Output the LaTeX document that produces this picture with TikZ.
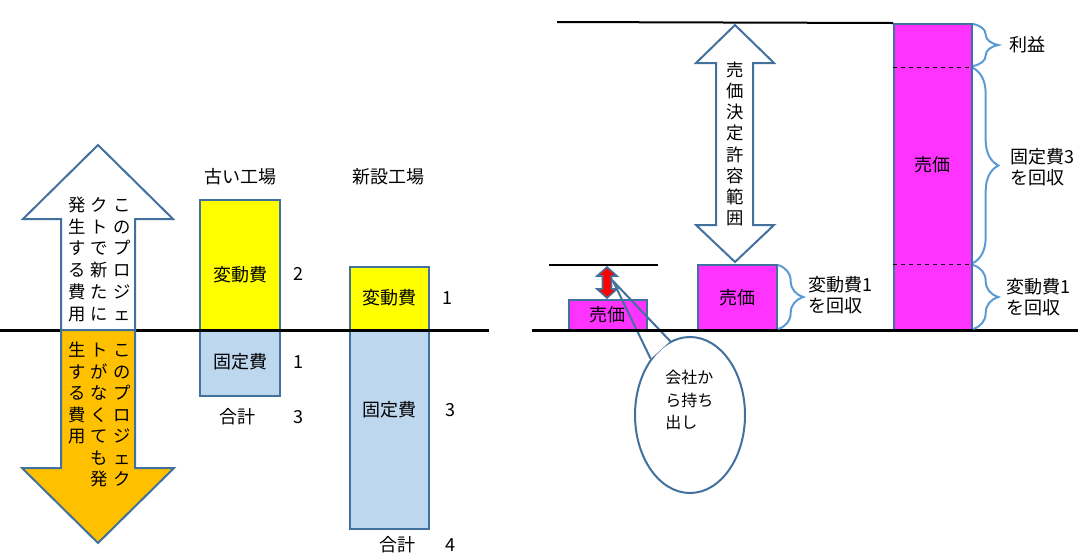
\documentclass[tikz,border=0pt]{standalone}
\usepackage{fontspec}
\setmainfont{Noto Sans CJK JP}
\usetikzlibrary{decorations.pathreplacing,shapes.geometric,calc}
\definecolor{edge}{RGB}{65,113,156}
\definecolor{fixc}{RGB}{189,215,238}
\definecolor{varc}{RGB}{255,255,0}
\definecolor{orng}{RGB}{255,192,0}
\definecolor{pinkc}{RGB}{255,51,255}
\definecolor{brc}{RGB}{91,155,213}
\newcommand\vcol[5]{%
  \foreach \ch [count=\i] in {#5} {\node[vch] (#1-\i) at (#2,{#3+(\i-1)*#4}) {\ch};}}
\begin{document}
\begin{tikzpicture}[x=0.75pt,y=-0.75pt,
  lbl/.style={inner sep=0, font=\fontsize{13.5}{16}\selectfont, text height=11.9pt, text depth=1.6pt},
  vch/.style={inner sep=0, font=\fontsize{13}{15}\selectfont, text height=11.4pt, text depth=1.6pt},
  twoline/.style={inner sep=0, font=\fontsize{13.5}{15.75}\selectfont, align=left, anchor=west},
  bar/.style={draw=edge, line width=1.5pt, inner sep=0, anchor=north west},
  ashape/.style={draw=edge, line width=1.5pt, line join=miter},
  axis/.style={black, line width=2.25pt},
  thinaxis/.style={black, line width=1.5pt},
  curly/.style={draw=brc, line width=1.5pt, decorate, decoration={brace, amplitude=19pt}},
]
\useasboundingbox (0,0) rectangle (1088,558);

% ---------- left: old / new factory ----------
\node[bar, fill=varc, minimum width=60pt, minimum height=98.25pt] (oldvar) at (199,199) {};
\node[bar, fill=fixc, minimum width=60pt, minimum height=48.75pt] (oldfix) at (199,330) {};
\node[bar, fill=varc, minimum width=59.25pt, minimum height=48pt] (newvar) at (349,266) {};
\node[bar, fill=fixc, minimum width=59.25pt, minimum height=148.5pt] (newfix) at (349,330) {};

\node[lbl] (t-old) at (240,177) {古い工場};
\node[lbl] (t-new) at (388,177) {新設工場};
\node[lbl] (l-oldvar) at (240,275) {変動費};
\node[lbl] (n-oldvar) at (298,274) {2};
\node[lbl] (l-oldfix) at (240,362) {固定費};
\node[lbl] (n-oldfix) at (298,362) {1};
\node[lbl] (l-oldsum) at (237,417) {合計};
\node[lbl] (n-oldsum) at (298,417) {3};
\node[lbl] (l-newvar) at (389,298) {変動費};
\node[lbl] (n-newvar) at (447,298) {1};
\node[lbl] (l-newfix) at (389,410) {固定費};
\node[lbl] (n-newfix) at (450,410) {3};
\node[lbl] (l-newsum) at (397,545) {合計};
\node[lbl] (n-newsum) at (450,545) {4};

\coordinate (ax1a) at (0,330);
\coordinate (ax1b) at (489,330);
\draw[axis] (ax1a) -- (ax1b);

% up arrow
\draw[ashape, fill=white] (61,330) -- (61,219) -- (23,219) -- (98,145) -- (173,219) -- (135,219) -- (135,330) -- cycle;
% down arrow
\draw[ashape, fill=orng] (61,330) -- (135,330) -- (135,468) -- (174,468) -- (98,543) -- (22,468) -- (61,468) -- cycle;

\vcol{ua}{122}{205}{21.7}{こ,の,プ,ロ,ジ,ェ}
\vcol{ub}{99}{205}{21.7}{ク,ト,で,新,た,に}
\vcol{uc}{77}{205}{21.7}{発,生,す,る,費,用}
\vcol{da}{122}{350}{21.5}{こ,の,プ,ロ,ジ,ェ,ク}
\vcol{db}{99}{350}{21.5}{ト,が,な,く,て,も,発}
\vcol{dc}{77}{350}{21.5}{生,す,る,費,用}

% ---------- right: selling price ----------
\node[bar, fill=pinkc, minimum width=58.5pt, minimum height=23.25pt] (p1) at (568,299) {};
\node[bar, fill=pinkc, minimum width=59.25pt, minimum height=49.5pt] (p2) at (697,264) {};
\node[bar, fill=pinkc, minimum width=58.5pt, minimum height=230.25pt] (p3) at (893,23) {};
\draw[black, dashed, line width=0.6pt] (p3.west |- 0,67) -- (p3.east |- 0,67);
\draw[black, dashed, line width=0.6pt] (p3.west |- 0,264) -- (p3.east |- 0,264);

\node[lbl] (l-p1) at (607,315) {売価};
\node[lbl] (l-p2) at (737,298) {売価};
\node[lbl] (l-p3) at (932,165) {売価};

\coordinate (top-a) at (557,22);
\draw[thinaxis] (top-a) -- (p3.north west);
\coordinate (lvl-a) at (549,265);
\coordinate (lvl-b) at (658,265);
\draw[thinaxis] (lvl-a) -- (lvl-b);

% big double arrow
\draw[ashape, fill=white] (735,25) -- (774,63) -- (753,63) -- (753,225) -- (774,225) -- (735,262) -- (696,225) -- (716,225) -- (716,63) -- (696,63) -- cycle;
\vcol{ra}{735}{70}{21.14}{売,価,決,定,許,容,範,囲}

% red double arrow
\draw[draw=edge, line width=1.2pt, fill=red, line join=miter] (607,267) -- (617,276) -- (611.5,276) -- (611.5,289) -- (617,289) -- (607,298) -- (597,289) -- (602.5,289) -- (602.5,276) -- (597,276) -- cycle;

% callout
\node[draw=edge, line width=1.5pt, ellipse, fill=white, minimum width=82.5pt, minimum height=117pt, inner sep=0] (callout) at (690,415) {};
\coordinate (ctip) at (613,281);
\fill[white] (callout.125) -- ($(callout.125)!0.25!(ctip)$) -- ($(callout.105)!0.25!(ctip)$) -- (callout.105) -- cycle;
\draw[edge, line width=1.5pt] (callout.125) -- (ctip) -- (callout.105);
\node[inner sep=0, font=\fontsize{12}{16.9}\selectfont, align=left, anchor=west] (ctext) at (665,400) {会社か\\ら持ち\\出し};

\coordinate (ax2a) at (532,330);
\coordinate (ax2b) at (1078,330);
\draw[axis] (ax2a) -- (ax2b);

% braces
\draw[curly] (778,265) -- (778,329);
\node[twoline] (b-p2) at (808,295) {変動費1\\を回収};
\draw[curly] (973,24) -- (973,66);
\node[lbl, anchor=west] (b-profit) at (1009,45) {利益};
\draw[curly] (973,68) -- (973,263);
\node[twoline] (b-fix) at (1010,167.5) {固定費3\\を回収};
\draw[curly] (973,265) -- (973,329);
\node[twoline] (b-var) at (1006,297) {変動費1\\を回収};
\end{tikzpicture}
\end{document}
